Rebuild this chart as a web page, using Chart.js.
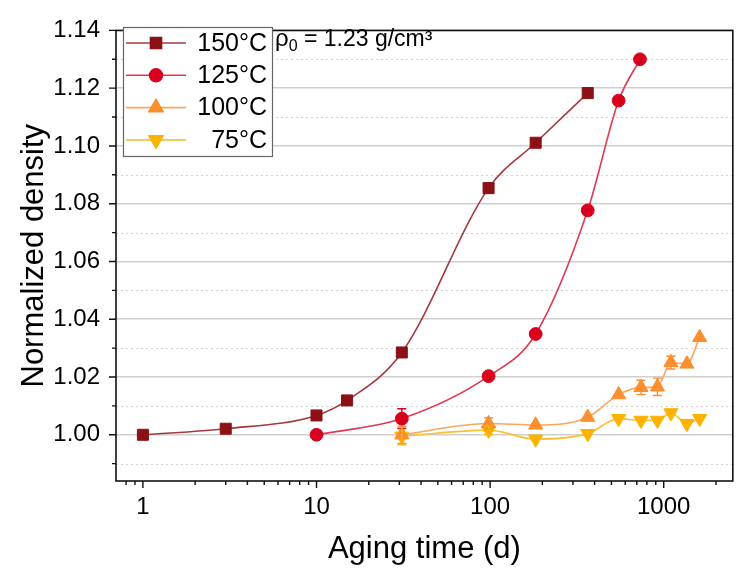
<!DOCTYPE html>
<html>
<head>
<meta charset="utf-8">
<script src="https://cdn.jsdelivr.net/npm/chart.js@4.4.1/dist/chart.umd.min.js"></script>
<style>
    html, body { margin: 0; padding: 0; background: #fff; }
    #wrap { width: 742px; height: 576px; }
</style>
</head>
<body>
<div id="wrap"><canvas id="densityChart" width="742" height="576"></canvas></div>
<script>
// Aging series: time in days, normalized density, error bar half-width
const days150 = [1, 3, 10, 15, 31, 98, 183, 365];
const dens150 = [1.0000, 1.0021, 1.0067, 1.0119, 1.0285, 1.0854, 1.1011, 1.1183];
const err150 = [0, 0, 0, 0, 0, 0, 0, 0];

const days125 = [10, 31, 98, 183, 365, 550, 730];
const dens125 = [1.0000, 1.0056, 1.0203, 1.0349, 1.0777, 1.1157, 1.1300];
const err125 = [0, 0.0034, 0, 0, 0, 0, 0];

const days100 = [31, 98, 183, 365, 550, 740, 920, 1100, 1360, 1610];
const dens100 = [1.0000, 1.0039, 1.0034, 1.0061, 1.0139, 1.0164, 1.0166, 1.0250, 1.0245, 1.0337];
const err100 = [0.003, 0.002, 0, 0, 0, 0.0025, 0.003, 0.0022, 0, 0];

const days75 = [31, 98, 183, 365, 550, 740, 920, 1100, 1360, 1610];
const dens75 = [0.9995, 1.0016, 0.9985, 1.0004, 1.0056, 1.0050, 1.0050, 1.0076, 1.0039, 1.0056];
const err75 = [0.003, 0.0015, 0, 0, 0, 0, 0, 0, 0, 0];

const seriesLabels = ['150°C', '125°C', '100°C', '75°C'];

// axis ticks
const xMajor = [1, 10, 100, 1000];
const xMinor = [0.8, 0.9, 2, 3, 4, 5, 6, 7, 8, 9, 20, 30, 40, 50, 60, 70, 80, 90,
                200, 300, 400, 500, 600, 700, 800, 900, 2000];
const yMajor = [1.00, 1.02, 1.04, 1.06, 1.08, 1.10, 1.12, 1.14];
const yMinor = [0.99, 1.01, 1.03, 1.05, 1.07, 1.09, 1.11, 1.13];

const FONT = "'Liberation Sans', Arial, Helvetica, sans-serif";

function toPoints(xs, ys) {
    return xs.map((d, i) => ({ x: d, y: ys[i] }));
}

function makeSeries(label, xs, ys, errs, lineColor, markColor, style, radius, rotation) {
    return {
        label: label,
        data: toPoints(xs, ys),
        errors: errs,
        borderColor: lineColor,
        borderWidth: 1.6,
        backgroundColor: markColor,
        pointBackgroundColor: markColor,
        pointBorderColor: markColor,
        pointBorderWidth: 1,
        pointStyle: style,
        pointRadius: radius,
        pointRotation: rotation,
        cubicInterpolationMode: 'monotone',
        fill: false
    };
}

// minor grid, frame, tick marks
const axisDecor = {
    id: 'axisDecor',
    beforeDatasetsDraw(chart) {
        const { ctx, chartArea: a, scales: { y } } = chart;
        ctx.save();
        ctx.strokeStyle = '#d2d2d2';
        ctx.lineWidth = 1.2;
        ctx.setLineDash([2, 3]);
        yMinor.forEach(v => {
            const py = Math.round(y.getPixelForValue(v)) + 0.5;
            ctx.beginPath();
            ctx.moveTo(a.left, py);
            ctx.lineTo(a.right, py);
            ctx.stroke();
        });
        ctx.restore();
    },
    afterDraw(chart) {
        const { ctx, chartArea: a, scales: { x, y } } = chart;
        ctx.save();
        ctx.strokeStyle = '#111';
        ctx.lineWidth = 1.6;
        ctx.strokeRect(a.left, a.top, a.right - a.left, a.bottom - a.top);

        ctx.lineWidth = 1.4;
        ctx.beginPath();
        yMajor.forEach(v => {
            const py = y.getPixelForValue(v);
            ctx.moveTo(a.left - 7, py); ctx.lineTo(a.left, py);
        });
        yMinor.forEach(v => {
            const py = y.getPixelForValue(v);
            ctx.moveTo(a.left - 4, py); ctx.lineTo(a.left, py);
        });
        xMajor.forEach(v => {
            const px = x.getPixelForValue(v);
            ctx.moveTo(px, a.bottom); ctx.lineTo(px, a.bottom + 7);
        });
        xMinor.forEach(v => {
            const px = x.getPixelForValue(v);
            ctx.moveTo(px, a.bottom); ctx.lineTo(px, a.bottom + 4);
        });
        ctx.stroke();
        ctx.restore();
    }
};

// vertical error bars with caps
const errorBars = {
    id: 'errorBars',
    afterDatasetsDraw(chart) {
        const { ctx, scales: { x, y } } = chart;
        ctx.save();
        chart.data.datasets.forEach(ds => {
            ctx.strokeStyle = ds.pointBackgroundColor;
            ctx.lineWidth = 1.4;
            ds.data.forEach((p, i) => {
                const e = ds.errors[i];
                if (!e) return;
                const px = x.getPixelForValue(p.x);
                const top = y.getPixelForValue(p.y + e);
                const bot = y.getPixelForValue(p.y - e);
                ctx.beginPath();
                ctx.moveTo(px, top); ctx.lineTo(px, bot);
                ctx.moveTo(px - 4.5, top); ctx.lineTo(px + 4.5, top);
                ctx.moveTo(px - 4.5, bot); ctx.lineTo(px + 4.5, bot);
                ctx.stroke();
            });
        });
        ctx.restore();
    }
};

// boxed legend in the top-left corner plus the reference density note
const boxLegend = {
    id: 'boxLegend',
    afterDraw(chart) {
        const { ctx } = chart;
        const box = { x: 123, y: 27, w: 149, h: 129 };
        ctx.save();
        ctx.fillStyle = '#fff';
        ctx.fillRect(box.x, box.y, box.w, box.h);
        ctx.strokeStyle = '#666';
        ctx.lineWidth = 1.2;
        ctx.strokeRect(box.x + 0.5, box.y + 0.5, box.w, box.h);

        ctx.font = '25px ' + FONT;
        ctx.textAlign = 'right';
        ctx.textBaseline = 'middle';
        chart.data.datasets.forEach((ds, i) => {
            const cy = 43 + i * 32.3;
            ctx.strokeStyle = ds.borderColor;
            ctx.lineWidth = 1.6;
            ctx.beginPath();
            ctx.moveTo(126, cy); ctx.lineTo(186, cy);
            ctx.stroke();
            ctx.fillStyle = ds.pointBackgroundColor;
            ctx.strokeStyle = ds.pointBorderColor;
            Chart.helpers.drawPoint(ctx, {
                pointStyle: ds.pointStyle,
                radius: ds.pointRadius,
                rotation: ds.pointRotation,
                borderWidth: 1
            }, 156, cy);
            ctx.fillStyle = '#000';
            ctx.fillText(ds.label, 267, cy + 1);
        });

        // rho_0 note
        ctx.textAlign = 'left';
        ctx.textBaseline = 'alphabetic';
        ctx.fillStyle = '#000';
        ctx.font = '24px ' + FONT;
        ctx.fillText('ρ', 275, 46);
        let w = ctx.measureText('ρ').width;
        ctx.font = '16px ' + FONT;
        ctx.fillText('0', 275 + w, 51);
        w += ctx.measureText('0').width;
        ctx.font = '23px ' + FONT;
        ctx.fillText(' = 1.23 g/cm³', 275 + w, 46);
        ctx.restore();
    }
};

Chart.defaults.font.family = FONT;
Chart.defaults.color = '#000';

new Chart(document.getElementById('densityChart'), {
    type: 'line',
    data: {
        datasets: [
            makeSeries(seriesLabels[0], days150, dens150, err150, '#a23a3f', '#8b1117', 'rect', 7.8, 0),
            makeSeries(seriesLabels[1], days125, dens125, err125, '#e2374e', '#d8001d', 'circle', 6.4, 0),
            makeSeries(seriesLabels[2], days100, dens100, err100, '#fca55c', '#fb8e2e', 'triangle', 8.2, 0),
            makeSeries(seriesLabels[3], days75, dens75, err75, '#fbc134', '#fbb300', 'triangle', 8.2, 180)
        ]
    },
    options: {
        responsive: false,
        animation: false,
        layout: { padding: { top: 23, right: 9, left: 0, bottom: 0 } },
        plugins: {
            legend: { display: false },
            tooltip: { enabled: false }
        },
        scales: {
            x: {
                type: 'logarithmic',
                min: 0.7,
                max: 2500,
                afterBuildTicks: scale => { scale.ticks = xMajor.map(v => ({ value: v })); },
                afterFit: scale => { scale.height = 95; },
                grid: { display: false, drawTicks: false },
                border: { display: false },
                ticks: {
                    font: { size: 24 },
                    padding: 12,
                    maxRotation: 0,
                    autoSkip: false,
                    callback: v => String(v)
                },
                title: {
                    display: true,
                    text: 'Aging time (d)',
                    font: { size: 31 },
                    padding: { top: 0, bottom: 8 }
                }
            },
            y: {
                type: 'linear',
                min: 0.984,
                max: 1.14,
                afterBuildTicks: scale => { scale.ticks = yMajor.map(v => ({ value: v })); },
                afterFit: scale => { scale.width = 116; },
                grid: { color: '#cfcfcf', lineWidth: 1.6, drawTicks: false },
                border: { display: false },
                ticks: {
                    font: { size: 24 },
                    padding: 16,
                    callback: v => v.toFixed(2)
                },
                title: {
                    display: true,
                    text: 'Normalized density',
                    font: { size: 31 },
                    padding: { top: 16, bottom: 0 }
                }
            }
        }
    },
    plugins: [axisDecor, errorBars, boxLegend]
});
</script>
</body>
</html>
